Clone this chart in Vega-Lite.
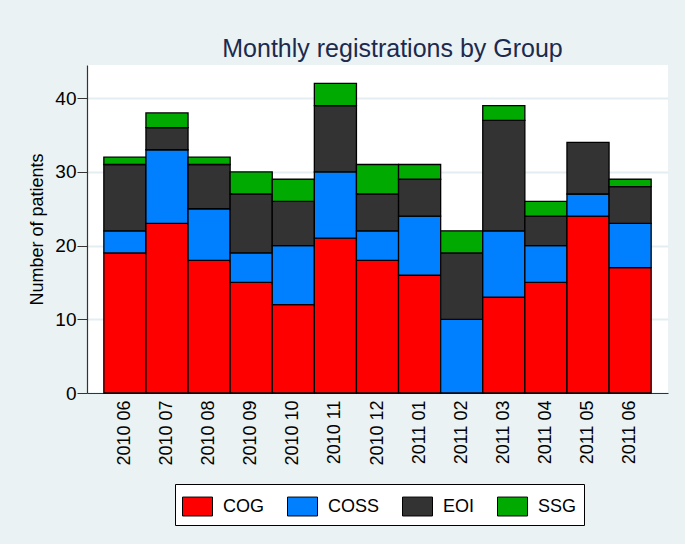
{
  "$schema": "https://vega.github.io/schema/vega-lite/v6.json",
  "width": 581,
  "height": 328,
  "autosize": {"type": "none"},
  "padding": {"left": 87, "top": 65, "right": 17, "bottom": 151},
  "background": "#eaf2f3",
  "config": {
    "view": {"fill": "white", "stroke": null},
    "font": "Liberation Sans"
  },
  "title": {
    "text": "Monthly registrations by Group",
    "fontSize": 25,
    "font": "Liberation Sans",
    "fontWeight": "normal",
    "color": "#1c2a4e",
    "anchor": "middle",
    "dx": 15,
    "dy": 26,
    "offset": 9,
    "baseline": "alphabetic"
  },
  "data": {
    "values": [
      {"month": "2010 06", "group": "COG", "o": 1, "n": 19},
      {"month": "2010 06", "group": "COSS", "o": 2, "n": 3},
      {"month": "2010 06", "group": "EOI", "o": 3, "n": 9},
      {"month": "2010 06", "group": "SSG", "o": 4, "n": 1},
      {"month": "2010 07", "group": "COG", "o": 1, "n": 23},
      {"month": "2010 07", "group": "COSS", "o": 2, "n": 10},
      {"month": "2010 07", "group": "EOI", "o": 3, "n": 3},
      {"month": "2010 07", "group": "SSG", "o": 4, "n": 2},
      {"month": "2010 08", "group": "COG", "o": 1, "n": 18},
      {"month": "2010 08", "group": "COSS", "o": 2, "n": 7},
      {"month": "2010 08", "group": "EOI", "o": 3, "n": 6},
      {"month": "2010 08", "group": "SSG", "o": 4, "n": 1},
      {"month": "2010 09", "group": "COG", "o": 1, "n": 15},
      {"month": "2010 09", "group": "COSS", "o": 2, "n": 4},
      {"month": "2010 09", "group": "EOI", "o": 3, "n": 8},
      {"month": "2010 09", "group": "SSG", "o": 4, "n": 3},
      {"month": "2010 10", "group": "COG", "o": 1, "n": 12},
      {"month": "2010 10", "group": "COSS", "o": 2, "n": 8},
      {"month": "2010 10", "group": "EOI", "o": 3, "n": 6},
      {"month": "2010 10", "group": "SSG", "o": 4, "n": 3},
      {"month": "2010 11", "group": "COG", "o": 1, "n": 21},
      {"month": "2010 11", "group": "COSS", "o": 2, "n": 9},
      {"month": "2010 11", "group": "EOI", "o": 3, "n": 9},
      {"month": "2010 11", "group": "SSG", "o": 4, "n": 3},
      {"month": "2010 12", "group": "COG", "o": 1, "n": 18},
      {"month": "2010 12", "group": "COSS", "o": 2, "n": 4},
      {"month": "2010 12", "group": "EOI", "o": 3, "n": 5},
      {"month": "2010 12", "group": "SSG", "o": 4, "n": 4},
      {"month": "2011 01", "group": "COG", "o": 1, "n": 16},
      {"month": "2011 01", "group": "COSS", "o": 2, "n": 8},
      {"month": "2011 01", "group": "EOI", "o": 3, "n": 5},
      {"month": "2011 01", "group": "SSG", "o": 4, "n": 2},
      {"month": "2011 02", "group": "COSS", "o": 2, "n": 10},
      {"month": "2011 02", "group": "EOI", "o": 3, "n": 9},
      {"month": "2011 02", "group": "SSG", "o": 4, "n": 3},
      {"month": "2011 03", "group": "COG", "o": 1, "n": 13},
      {"month": "2011 03", "group": "COSS", "o": 2, "n": 9},
      {"month": "2011 03", "group": "EOI", "o": 3, "n": 15},
      {"month": "2011 03", "group": "SSG", "o": 4, "n": 2},
      {"month": "2011 04", "group": "COG", "o": 1, "n": 15},
      {"month": "2011 04", "group": "COSS", "o": 2, "n": 5},
      {"month": "2011 04", "group": "EOI", "o": 3, "n": 4},
      {"month": "2011 04", "group": "SSG", "o": 4, "n": 2},
      {"month": "2011 05", "group": "COG", "o": 1, "n": 24},
      {"month": "2011 05", "group": "COSS", "o": 2, "n": 3},
      {"month": "2011 05", "group": "EOI", "o": 3, "n": 7},
      {"month": "2011 06", "group": "COG", "o": 1, "n": 17},
      {"month": "2011 06", "group": "COSS", "o": 2, "n": 6},
      {"month": "2011 06", "group": "EOI", "o": 3, "n": 5},
      {"month": "2011 06", "group": "SSG", "o": 4, "n": 1}
    ]
  },
  "mark": {"type": "bar", "stroke": "black", "strokeWidth": 1.3},
  "encoding": {
    "x": {
      "field": "month",
      "type": "nominal",
      "sort": null,
      "scale": {"paddingInner": 0, "paddingOuter": 0.4},
      "axis": {
        "title": null,
        "labelAngle": -90,
        "labelFontSize": 18,
        "labelColor": "black",
        "labelPadding": 7,
        "ticks": false,
        "domainColor": "#333333",
        "domainWidth": 1.2
      }
    },
    "y": {
      "field": "n",
      "type": "quantitative",
      "stack": "zero",
      "scale": {"domain": [0, 44.5], "nice": false},
      "axis": {
        "title": "Number of patients",
        "titleFontSize": 18,
        "titleFontWeight": "normal",
        "titleColor": "black",
        "titlePadding": 8,
        "values": [0, 10, 20, 30, 40],
        "labelFontSize": 19,
        "labelColor": "black",
        "labelPadding": 1,
        "tickSize": 10,
        "tickColor": "#333333",
        "domainColor": "#333333",
        "domainWidth": 1.2,
        "grid": true,
        "gridColor": "#e4edf1",
        "gridWidth": 2
      }
    },
    "color": {
      "field": "group",
      "type": "nominal",
      "scale": {
        "domain": ["COG", "COSS", "EOI", "SSG"],
        "range": ["#ff0000", "#0080ff", "#333333", "#00aa00"]
      },
      "legend": {
        "title": null,
        "orient": "none",
        "legendX": 88,
        "legendY": 419,
        "direction": "horizontal",
        "columns": 4,
        "fillColor": "white",
        "strokeColor": "black",
        "padding": 7,
        "symbolType": "M-1,-0.63H1V0.63H-1Z",
        "symbolSize": 900,
        "symbolStrokeColor": "black",
        "symbolStrokeWidth": 1,
        "symbolOpacity": 1,
        "labelFontSize": 18,
        "labelColor": "black",
        "labelOffset": 10,
        "columnPadding": 20
      }
    },
    "order": {"field": "o", "type": "quantitative"}
  }
}
